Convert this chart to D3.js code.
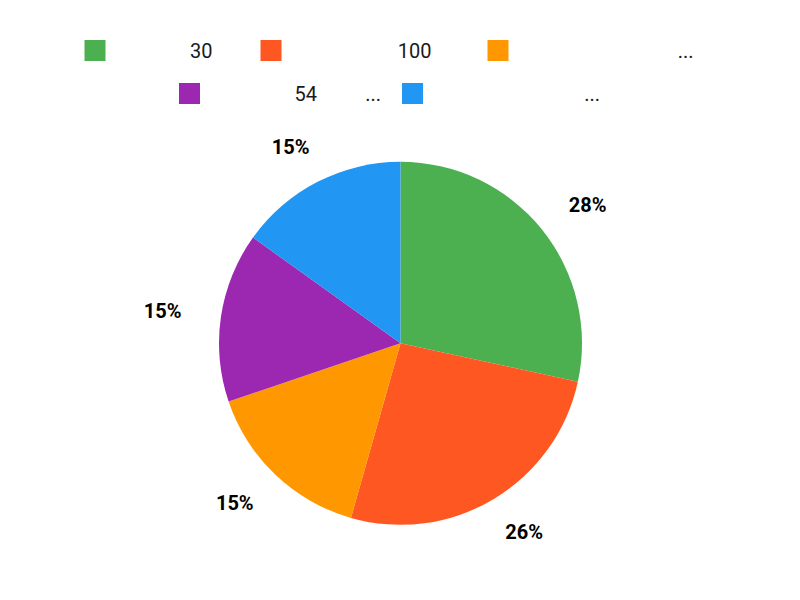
<!DOCTYPE html>
<html>
<head>
<meta charset="utf-8">
<script src="https://cdn.jsdelivr.net/npm/d3@7"></script>
<style>
  html, body { margin: 0; padding: 0; background: #ffffff; }
  svg { display: block; }
</style>
</head>
<body>
<div id="chart"></div>
<script>
// ---- data ----
const categories = ["A", "B", "C", "D", "E"];
const values = [28.4, 26.0, 15.4, 15.1, 15.1];
const colors = ["#4caf50", "#ff5722", "#ff9800", "#9c27b0", "#2196f3"];
// visible parts of the legend labels (the rest of each label is blank in the reference)
const legendFragments = [
  [{ t: "30", at: 101 }],
  [{ t: "100", at: 144 }],
  [{ t: "...", at: 179 }],
  [{ t: "54", at: 111 }, { t: "...", at: 175 }],
  [{ t: "...", at: 171 }]
];
const legendTextWidths = [128, 179, 180, 175, 171];
const legendRows = [[0, 1, 2], [3, 4]];

// ---- layout ----
const W = 800, H = 600;
const cx = 400.5, cy = 343.3, R = 181.5;
const swatch = 21, swatchGap = 6, itemGap = 21;
const legendCenter = 389.5;
const rowTop = [40, 83];

const svg = d3.select("#chart").append("svg").attr("width", W).attr("height", H);

// legend
legendRows.forEach((row, ri) => {
  const total = row.reduce((s, i) => s + swatch + swatchGap + legendTextWidths[i], 0) + itemGap * (row.length - 1);
  let x = legendCenter - total / 2;
  row.forEach(i => {
    const g = svg.append("g").attr("transform", `translate(${x},${rowTop[ri]})`);
    g.append("rect").attr("width", swatch).attr("height", swatch).attr("fill", colors[i]);
    legendFragments[i].forEach(f => {
      g.append("text")
        .attr("x", swatch + swatchGap + f.at)
        .attr("y", 17.5)
        .attr("text-anchor", "end")
        .attr("font-family", "Roboto")
        .attr("font-size", 20)
        .attr("fill", "#1a1a1a")
        .text(f.t);
    });
    x += swatch + swatchGap + legendTextWidths[i] + itemGap;
  });
});

// pie
const pie = d3.pie().sort(null).value(d => d.v);
const arcs = pie(categories.map((c, i) => ({ c, v: values[i], i })));
const arc = d3.arc().innerRadius(0).outerRadius(R);
const total = d3.sum(values);

const g = svg.append("g").attr("transform", `translate(${cx},${cy})`);
g.selectAll("path").data(arcs).join("path")
  .attr("d", arc)
  .attr("fill", d => colors[d.data.i]);

const labelR = R + 39, halfW = 20;
g.selectAll("text.lbl").data(arcs).join("text")
  .attr("class", "lbl")
  .attr("x", d => { const a = (d.startAngle + d.endAngle) / 2; return Math.sin(a) * (labelR + halfW); })
  .attr("y", d => { const a = (d.startAngle + d.endAngle) / 2; return -Math.cos(a) * labelR; })
  .attr("dy", "0.35em")
  .attr("text-anchor", "middle")
  .attr("font-family", "Roboto")
  .attr("font-weight", "bold")
  .attr("font-size", 20)
  .attr("fill", "#000")
  .text(d => d3.format(".0%")(d.data.v / total));
</script>
</body>
</html>
